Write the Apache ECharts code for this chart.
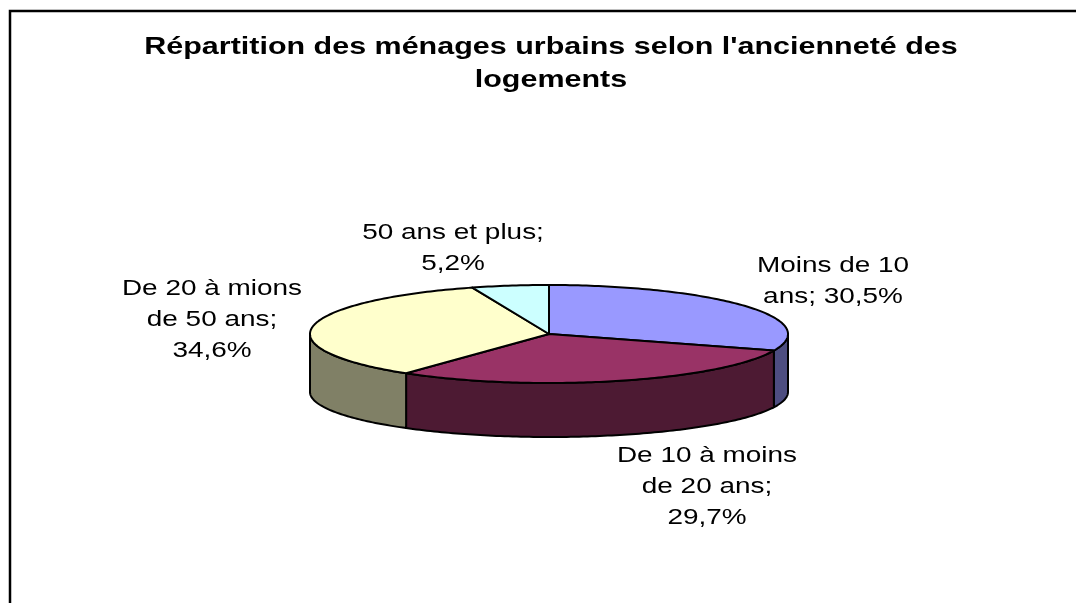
<!DOCTYPE html>
<html>
<head>
<meta charset="utf-8">
<script src="https://cdn.jsdelivr.net/npm/echarts@6/dist/echarts.min.js"></script>
<style>
html,body{margin:0;padding:0;background:#ffffff;}
#c{width:1076px;height:603px;}
</style>
</head>
<body>
<div id="c"></div>
<script>
// ---- data ----
const categories = ['Moins de 10 ans', 'De 10 à moins de 20 ans', 'De 20 à mions de 50 ans', '50 ans et plus'];
const values = [30.5, 29.7, 34.6, 5.2];
const titleLines = ["Répartition des ménages urbains selon l'ancienneté des", 'logements'];

// ---- styles / layout ----
const topColors = ['#9999FF', '#993366', '#FFFFCC', '#CCFFFF'];
const sideColors = ['#4D4D80', '#4D1A33', '#808066', '#668080'];
const PIE = { cx: 549, cy: 334, rx: 239, ry: 49, depth: 58, ryBottom: 45 };
const labelAnchors = [[833, 281], [707, 487], [212, 320], [453, 248]];
const TEXT_STRETCH = 1.27;
const FONT = '"Liberation Sans", Arial, Helvetica, sans-serif';
const LABEL_FONT = '22px ' + FONT;
const LABEL_WRAP = 155;

const total = values.reduce((a, b) => a + b, 0);
function sliceAngles(i, vals) {
  let s = 0;
  for (let k = 0; k < i; k++) s += vals[k];
  return [s / total * 360, (s + vals[i]) / total * 360];
}
function topPt(a) {
  const r = a * Math.PI / 180;
  return [PIE.cx + PIE.rx * Math.sin(r), PIE.cy - PIE.ry * Math.cos(r)];
}
function botPt(a) {
  const r = a * Math.PI / 180;
  return [PIE.cx + PIE.rx * Math.sin(r), PIE.cy + PIE.depth - PIE.ryBottom * Math.cos(r)];
}
function fmt(v) { return v.toFixed(1).replace('.', ',') + '%'; }

const measureCtx = document.createElement('canvas').getContext('2d');
function wrap(text, font, maxW) {
  measureCtx.font = font;
  const words = text.split(' ');
  const lines = [];
  let cur = '';
  words.forEach(w => {
    const t = cur ? cur + ' ' + w : w;
    if (cur && measureCtx.measureText(t).width > maxW) { lines.push(cur); cur = w; }
    else cur = t;
  });
  if (cur) lines.push(cur);
  return lines.join('\n');
}

const chart = echarts.init(document.getElementById('c'), null, { renderer: 'canvas' });

const graphics = [
  {
    type: 'rect', silent: true, z: 0,
    shape: { x: 10, y: 11, width: 1300, height: 900 },
    style: { fill: 'none', stroke: '#000000', lineWidth: 2.5 }
  },
  {
    type: 'text', x: 551, y: 64, scaleX: TEXT_STRETCH, z: 10,
    style: {
      legacy: false,
      text: titleLines.join('\n'), x: 0, y: 0,
      font: 'bold 24px ' + FONT, fill: '#000000',
      align: 'center', verticalAlign: 'middle',
      textAlign: 'center', textVerticalAlign: 'middle',
      lineHeight: 33
    }
  }
];
categories.forEach((name, i) => {
  graphics.push({
    type: 'text', x: labelAnchors[i][0], y: labelAnchors[i][1], scaleX: TEXT_STRETCH, z: 10,
    style: {
      legacy: false,
      text: wrap(name + '; ' + fmt(values[i]), LABEL_FONT, LABEL_WRAP), x: 0, y: 0,
      font: LABEL_FONT, fill: '#000000',
      align: 'center', verticalAlign: 'middle',
      textAlign: 'center', textVerticalAlign: 'middle',
      lineHeight: 31
    }
  });
});

const option = {
  backgroundColor: '#ffffff',
  animation: false,
  graphic: graphics,
  series: [
    {
      type: 'custom',
      name: 'sides',
      coordinateSystem: 'none',
      z: 2,
      data: values,
      renderItem: function (params, api) {
        const i = params.dataIndex;
        const [a0, a1] = sliceAngles(i, values);
        const s = Math.max(a0, 90), e = Math.min(a1, 270);
        if (e <= s) return { type: 'group', children: [] };
        const n = Math.max(2, Math.ceil(e - s));
        const pts = [];
        for (let k = 0; k <= n; k++) pts.push(topPt(s + (e - s) * k / n));
        for (let k = n; k >= 0; k--) pts.push(botPt(s + (e - s) * k / n));
        return {
          type: 'polygon',
          shape: { points: pts },
          style: { fill: sideColors[i], stroke: '#000000', lineWidth: 2, lineJoin: 'round' }
        };
      }
    },
    {
      type: 'custom',
      name: 'tops',
      coordinateSystem: 'none',
      z: 3,
      data: values,
      renderItem: function (params, api) {
        const i = params.dataIndex;
        const [a0, a1] = sliceAngles(i, values);
        const n = Math.max(2, Math.ceil(a1 - a0));
        const pts = [[PIE.cx, PIE.cy]];
        for (let k = 0; k <= n; k++) pts.push(topPt(a0 + (a1 - a0) * k / n));
        return {
          type: 'polygon',
          shape: { points: pts },
          style: { fill: topColors[i], stroke: '#000000', lineWidth: 2, lineJoin: 'round' }
        };
      }
    }
  ]
};
chart.setOption(option);
</script>
</body>
</html>
